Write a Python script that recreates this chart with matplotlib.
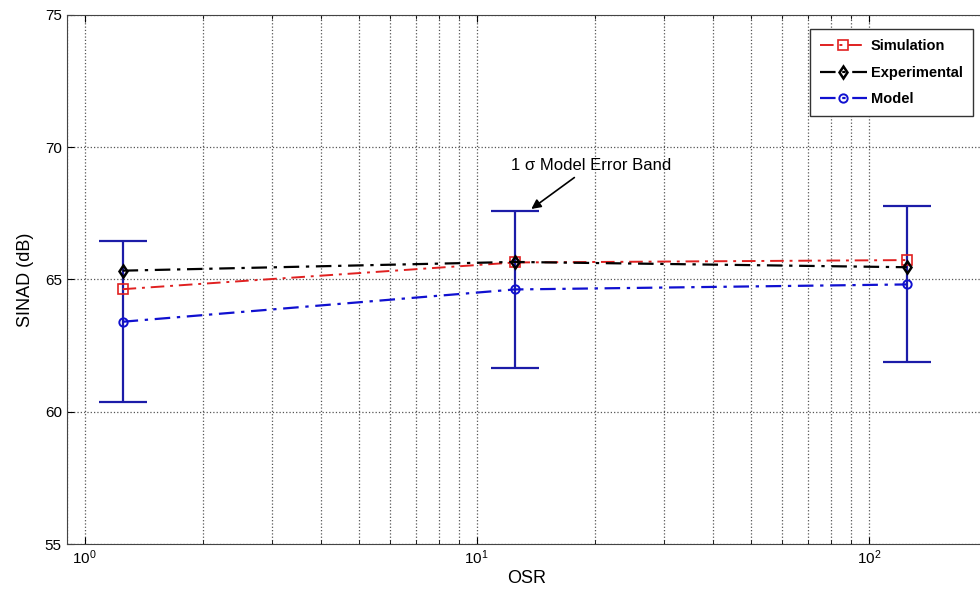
import numpy as np
import matplotlib
matplotlib.use("Agg")
import matplotlib.pyplot as plt

plt.rcParams['font.family'] = ['Liberation Sans', 'DejaVu Sans']

# dados
osr = [1.25, 12.5, 125]
sinad_sim = [64.63, 65.64, 65.73]
sinad_exp = [65.33, 65.66, 65.46]
sinad_model = [63.40, 64.62, 64.81]
model_err = [3.05, 2.97, 2.95]

fig = plt.figure(figsize=(9.8, 5.96), dpi=100)
ax = fig.add_axes([0.068, 0.0872, 0.939, 0.888])

# barras de erro do modelo (1 sigma)
ax.errorbar(osr, sinad_model, yerr=model_err, fmt='none', ecolor='#1c1ca8',
            elinewidth=1.6, capsize=17, capthick=1.6, zorder=2)

dashdot = (0, (7, 3, 1.5, 3))
ax.plot(osr, sinad_sim, color='#e02020', linestyle=dashdot, linewidth=1.4,
        marker='s', markersize=7, markerfacecolor='none', markeredgewidth=1.2,
        label='Simulation', zorder=3)
ax.plot(osr, sinad_exp, color='black', linestyle=dashdot, linewidth=1.6,
        marker='d', markersize=6, markerfacecolor='none', markeredgewidth=1.8,
        label='Experimental', zorder=3)
ax.plot(osr, sinad_model, color='#1010d0', linestyle=dashdot, linewidth=1.6,
        marker='o', markersize=6, markerfacecolor='none', markeredgewidth=1.4,
        label='Model', zorder=3)

ax.set_xscale('log')
ax.set_xlim(0.9, 200)
ax.set_ylim(55, 75)
ax.set_yticks([55, 60, 65, 70, 75])

ax.grid(True, which='major', axis='both', linestyle=':', color='#555555', linewidth=0.9)
ax.grid(True, which='minor', axis='x', linestyle=':', color='#555555', linewidth=0.9)
ax.tick_params(which='both', direction='in', top=True, right=False, labelsize=11)
ax.tick_params(which='major', length=5)
ax.tick_params(which='minor', length=3)
for s in ax.spines.values():
    s.set_color('#444444')

ax.set_xlabel('OSR', fontsize=13, labelpad=2)
ax.set_ylabel('SINAD (dB)', fontsize=13, labelpad=8)

ax.annotate('1 σ Model Error Band', xy=(13.6, 67.6), xytext=(12.2, 69.3),
            fontsize=12, ha='left', va='center',
            arrowprops=dict(arrowstyle='-|>', color='black', lw=1.2, mutation_scale=14))

leg = ax.legend(loc='upper right', bbox_to_anchor=(0.985, 0.973), fontsize=10.5,
                fancybox=False, framealpha=1, edgecolor='#333333', borderaxespad=0,
                handlelength=3.2, borderpad=0.7, labelspacing=0.85, handletextpad=0.3)
leg.get_frame().set_linewidth(1.0)
for t in leg.get_texts():
    t.set_fontweight('bold')

fig.savefig('out.png', dpi=100)
